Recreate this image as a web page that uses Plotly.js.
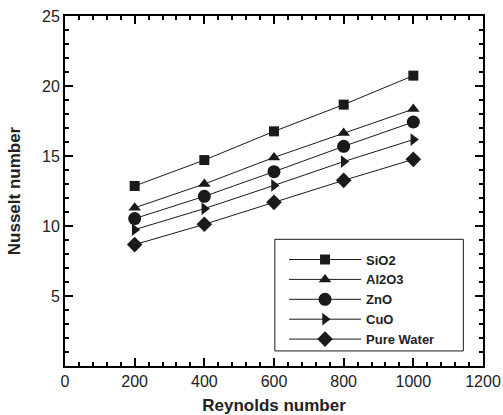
<!DOCTYPE html>
<html><head><meta charset="utf-8">
<script src="https://cdn.plot.ly/plotly-2.35.2.min.js"></script>
<style>html,body{margin:0;padding:0;background:#fff}#chart{width:503px;height:415px}</style>
</head><body><div id="chart"></div>
<script>
const reynolds = [200, 400, 600, 800, 1000];
const seriesNames = ["SiO2", "Al2O3", "ZnO", "CuO", "Pure Water"];
const sio2 = [12.86, 14.71, 16.76, 18.67, 20.74];
const al2o3 = [11.3, 13.0, 14.9, 16.65, 18.35];
const zno = [10.53, 12.12, 13.88, 15.69, 17.43];
const cuo = [9.74, 11.24, 12.9, 14.6, 16.17];
const pureWater = [8.67, 10.12, 11.69, 13.26, 14.76];
const yTicks = [5, 10, 15, 20, 25];

const values = [sio2, al2o3, zno, cuo, pureWater];
const symbols = ["square", "triangle-up", "circle", "triangle-right", "diamond"];
const sizes = [10, 11, 13, 11, 12];
const ink = "#1a1a1a";
const fam = "Liberation Sans, Arial, sans-serif";

const traces = values.map((v, i) => ({
  x: reynolds, y: v, name: seriesNames[i], type: "scatter", mode: "lines+markers",
  line: {color: ink, width: 1},
  marker: {symbol: symbols[i], size: sizes[i], color: ink}
}));
// invisible carrier so the top/right tick axes exist
traces.push({x: reynolds, y: sio2, xaxis: "x2", yaxis: "y2", mode: "none",
  type: "scatter", showlegend: false, hoverinfo: "skip"});

const tickStyle = {
  ticks: "inside", ticklen: 8, tickwidth: 2, tickcolor: "black",
  showgrid: false, zeroline: false
};

const layout = {
  width: 503, height: 415,
  margin: {l: 65, r: 20, t: 16, b: 49},
  showlegend: true,
  xaxis: Object.assign({}, tickStyle, {
    range: [0, 1200], dtick: 200,
    showline: true, mirror: true, linecolor: "black", linewidth: 2,
    minor: {dtick: 40, ticks: "inside", ticklen: 4, tickcolor: "black"},
    tickfont: {family: fam, size: 16, color: "#222"},
    title: {text: "Reynolds number",
      font: {family: fam, size: 17, color: "#222", weight: "bold"}}
  }),
  yaxis: Object.assign({}, tickStyle, {
    range: [0, 25], tickvals: yTicks,
    showline: true, mirror: true, linecolor: "black", linewidth: 2,
    minor: {tickmode: "linear", tick0: 0, dtick: 1, ticks: "inside", ticklen: 4, tickcolor: "black"},
    tickfont: {family: fam, size: 16, color: "#222"},
    title: {text: "Nusselt number",
      font: {family: fam, size: 17, color: "#222", weight: "bold"}}
  }),
  xaxis2: Object.assign({}, tickStyle, {
    overlaying: "x", side: "top", matches: "x", range: [0, 1200], dtick: 200,
    showticklabels: false, showline: false,
    minor: {dtick: 40, ticks: "inside", ticklen: 4, tickcolor: "black"}
  }),
  yaxis2: Object.assign({}, tickStyle, {
    overlaying: "y", side: "right", range: [0, 25], tickvals: yTicks,
    showticklabels: false, showline: false,
    minor: {tickmode: "linear", tick0: 0, dtick: 1, ticks: "inside", ticklen: 4, tickcolor: "black"}
  }),
  legend: {
    x: 0.524, y: 0.347, xanchor: "left", yanchor: "top",
    bgcolor: "rgba(0,0,0,0)", borderwidth: 0,
    itemwidth: 72, tracegroupgap: 0,
    font: {family: fam, size: 13, color: "#222", weight: "bold"}
  },
  shapes: [{type: "rect", xref: "paper", yref: "paper",
    x0: 0.502, x1: 0.953, y0: 0.043, y1: 0.362,
    line: {color: ink, width: 1}, fillcolor: "rgba(0,0,0,0)"}]
};

Plotly.newPlot("chart", traces, layout, {displayModeBar: false});
</script>
</body></html>
